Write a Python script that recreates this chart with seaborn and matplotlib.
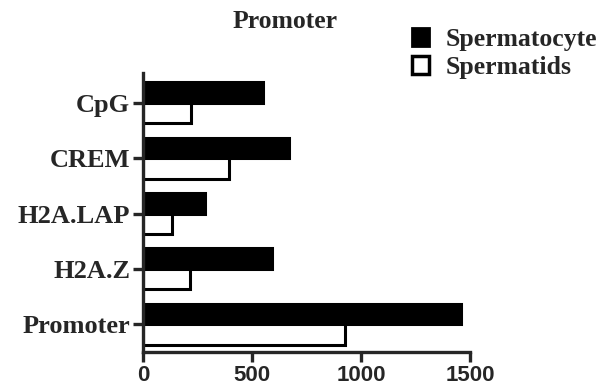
import pandas as pd
import matplotlib
matplotlib.use("Agg")
import matplotlib.pyplot as plt
import seaborn as sns
from matplotlib.patches import Patch

# --- data ---
categories = ['CpG', 'CREM', 'H2A.LAP', 'H2A.Z', 'Promoter']
spermatocyte = [550, 672, 286, 591, 1456]
spermatids = [223, 393, 132, 216, 928]
series = ['Spermatocyte', 'Spermatids']
x_ticks = [0, 500, 1000, 1500]

df = pd.DataFrame({
    'Region': categories * 2,
    'Count': spermatocyte + spermatids,
    'Cell': [series[0]] * len(categories) + [series[1]] * len(categories),
})

sns.set_style('ticks')
serif = ['Liberation Serif', 'DejaVu Serif']
sans = ['Liberation Sans', 'DejaVu Sans']

fig = plt.figure(figsize=(6.13, 3.92), dpi=100)
ax = fig.add_axes([0.233, 0.102, 0.534, 0.712])

sns.barplot(data=df, y='Region', x='Count', hue='Cell', order=categories,
            hue_order=series, palette=['black', 'white'], orient='h',
            width=0.74, edgecolor='black', linewidth=2.2, ax=ax, legend=False)

ax.set_xlim(0, 1500)
ax.set_ylim(4.5, -0.54)
ax.set_xticks(x_ticks)
ax.set_xlabel('')
ax.set_ylabel('')
sns.despine(ax=ax)
for s in ['left', 'bottom']:
    ax.spines[s].set_linewidth(2.4)
ax.tick_params(axis='both', width=2.4, length=7, pad=2)
for lab in ax.get_yticklabels():
    lab.set_fontfamily(serif)
    lab.set_fontweight('bold')
    lab.set_fontsize(19)
for lab in ax.get_xticklabels():
    lab.set_fontfamily(sans)
    lab.set_fontweight('bold')
    lab.set_fontsize(16)

fig.text(0.465, 0.945, 'Promoter', ha='center', va='center',
         family=serif, fontweight='bold', fontsize=18.5)

handles = [Patch(facecolor='black', edgecolor='black', linewidth=2),
           Patch(facecolor='white', edgecolor='black', linewidth=2.5)]
fig.legend(handles, series, loc='upper left', bbox_to_anchor=(0.656, 0.955),
           frameon=False, handlelength=0.65, handleheight=0.7, handletextpad=0.65,
           labelspacing=0.2, borderaxespad=0,
           prop={'family': serif, 'weight': 'bold', 'size': 18.5})

fig.savefig('out.png', dpi=100)
